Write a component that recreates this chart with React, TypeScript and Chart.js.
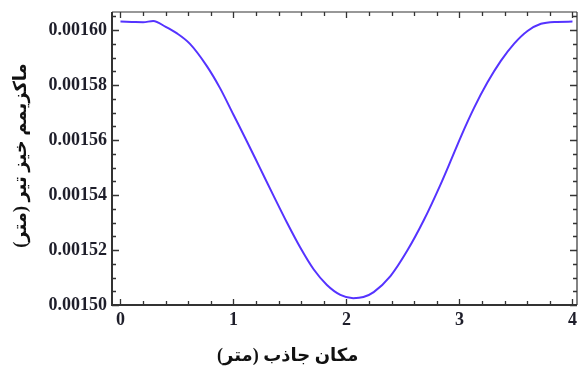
import React, { useEffect, useRef } from "react";
import { Chart, registerables } from "chart.js";

Chart.register(...registerables);

// Absorber position (m)
const positions = [
  0, 0.1, 0.2, 0.29, 0.4, 0.497, 0.615, 0.763, 0.881, 1.0, 1.118, 1.236, 1.354,
  1.473, 1.591, 1.709, 1.827, 1.946, 2.06, 2.15, 2.241, 2.389, 2.537, 2.685,
  2.833, 2.922, 3.011, 3.129, 3.248, 3.366, 3.484, 3.602, 3.721, 3.839, 4.0,
];
// Maximum beam deflection (m)
const deflections = [
  0.0016031, 0.001603, 0.0016029, 0.0016033, 0.0016012, 0.0015989, 0.001595,
  0.001587, 0.0015789, 0.0015692, 0.0015596, 0.0015497, 0.0015398, 0.00153,
  0.0015209, 0.001513, 0.0015073, 0.0015037, 0.0015025, 0.0015029, 0.0015047,
  0.0015105, 0.0015197, 0.0015309, 0.0015439, 0.0015524, 0.0015611, 0.0015717,
  0.001581, 0.0015888, 0.0015951, 0.0015997, 0.0016023, 0.001603, 0.0016031,
];

const xTickValues = [0, 1, 2, 3, 4];
const yTickValues = [0.0015, 0.00152, 0.00154, 0.00156, 0.00158, 0.0016];
const xMinorTickValues = [
  0, 0.2, 0.4, 0.6, 0.8, 1, 1.2, 1.4, 1.6, 1.8, 2, 2.2, 2.4, 2.6, 2.8, 3, 3.2,
  3.4, 3.6, 3.8, 4,
];
const yMinorTickValues = [
  0.0015, 0.001505, 0.00151, 0.001515, 0.00152, 0.001525, 0.00153, 0.001535,
  0.00154, 0.001545, 0.00155, 0.001555, 0.00156, 0.001565, 0.00157, 0.001575,
  0.00158, 0.001585, 0.00159, 0.001595, 0.0016, 0.001605,
];

const xTitle = "مکان جاذب (متر)";
const yTitle = "ماکزیمم خیز تیر (متر)";

const X_MIN = -0.075;
const X_MAX = 4.04;
const Y_MIN = 0.0015;
const Y_MAX = 0.0016066;

const FONT_FAMILY = "'Liberation Serif', 'Times New Roman', 'DejaVu Sans', serif";
const TEXT_COLOR = "#1e1e2a";
const FRAME_COLOR = "#333";

const framePlugin = {
  id: "mathematicaFrame",
  afterDraw(chart: any) {
    const { ctx, chartArea, scales } = chart;
    const { left, right, top, bottom } = chartArea;
    const xs = scales.x;
    const ys = scales.y;
    ctx.save();
    ctx.strokeStyle = FRAME_COLOR;
    // frame
    ctx.lineWidth = 2;
    ctx.beginPath();
    ctx.moveTo(left, top);
    ctx.lineTo(left, bottom);
    ctx.lineTo(right, bottom);
    ctx.stroke();
    ctx.lineWidth = 1.2;
    ctx.beginPath();
    ctx.moveTo(left, top);
    ctx.lineTo(right, top);
    ctx.moveTo(right, top);
    ctx.lineTo(right, bottom);
    ctx.stroke();

    // x ticks (inward), bottom and top
    ctx.lineWidth = 1.3;
    xMinorTickValues.forEach((v) => {
      const major = xTickValues.some((m) => Math.abs(m - v) < 1e-9);
      const len = major ? 6 : 4;
      const px = Math.round(xs.getPixelForValue(v)) + 0.5;
      ctx.beginPath();
      ctx.moveTo(px, bottom);
      ctx.lineTo(px, bottom - len);
      ctx.moveTo(px, top);
      ctx.lineTo(px, top + len);
      ctx.stroke();
    });
    // y ticks (inward), left and right
    yMinorTickValues.forEach((v) => {
      const major = yTickValues.some((m) => Math.abs(m - v) < 1e-12);
      const len = major ? 7 : 4;
      const py = Math.round(ys.getPixelForValue(v)) + 0.5;
      ctx.beginPath();
      ctx.moveTo(left, py);
      ctx.lineTo(left + len, py);
      ctx.moveTo(right, py);
      ctx.lineTo(right - len, py);
      ctx.stroke();
    });

    // axis titles
    ctx.fillStyle = "#111";
    ctx.font = `bold 18px ${FONT_FAMILY}`;
    (ctx as any).direction = "rtl";
    ctx.textAlign = "center";
    ctx.textBaseline = "middle";
    ctx.fillText(xTitle, xs.getPixelForValue(1.48), 356);

    ctx.translate(21, (top + bottom) / 2 - 3);
    ctx.rotate(-Math.PI / 2);
    ctx.fillText(yTitle, 0, 0);
    ctx.restore();
  },
};

export default function App() {
  const canvasRef = useRef<HTMLCanvasElement | null>(null);

  useEffect(() => {
    if (!canvasRef.current) return;
    const chart = new Chart(canvasRef.current, {
      type: "line",
      data: {
        datasets: [
          {
            data: positions.map((x, i) => ({ x, y: deflections[i] })),
            borderColor: "#5533ff",
            borderWidth: 2,
            pointRadius: 0,
            fill: false,
            cubicInterpolationMode: "monotone",
          },
        ],
      },
      options: {
        animation: false,
        responsive: true,
        maintainAspectRatio: false,
        layout: { padding: { left: 0, right: 1, top: 12, bottom: 0 } },
        plugins: {
          legend: { display: false },
          tooltip: { enabled: false },
        },
        scales: {
          x: {
            type: "linear",
            min: X_MIN,
            max: X_MAX,
            afterBuildTicks: (s: any) => {
              s.ticks = xTickValues.map((v) => ({ value: v }));
            },
            afterFit: (s: any) => {
              s.height = 68;
              s.paddingLeft = 0;
              s.paddingRight = 0;
            },
            grid: { display: false, drawTicks: false },
            border: { display: false },
            ticks: {
              padding: 5,
              autoSkip: false,
              maxRotation: 0,
              color: TEXT_COLOR,
              font: { family: FONT_FAMILY, size: 18, weight: "bold" },
              callback: (v: any) => String(v),
            },
          },
          y: {
            type: "linear",
            min: Y_MIN,
            max: Y_MAX,
            afterBuildTicks: (s: any) => {
              s.ticks = yTickValues.map((v) => ({ value: v }));
            },
            afterFit: (s: any) => {
              s.width = 112;
              s.paddingTop = 0;
              s.paddingBottom = 0;
            },
            grid: { display: false, drawTicks: false },
            border: { display: false },
            ticks: {
              padding: 5,
              autoSkip: false,
              color: TEXT_COLOR,
              font: { family: FONT_FAMILY, size: 18, weight: "bold" },
              callback: (v: any) => Number(v).toFixed(5),
            },
          },
        },
      },
      plugins: [framePlugin],
    } as any);
    return () => chart.destroy();
  }, []);

  return (
    <div
      style={{
        position: "absolute",
        left: 0,
        top: 0,
        width: 578,
        height: 373,
        background: "#fff",
      }}
    >
      <canvas ref={canvasRef} />
    </div>
  );
}
